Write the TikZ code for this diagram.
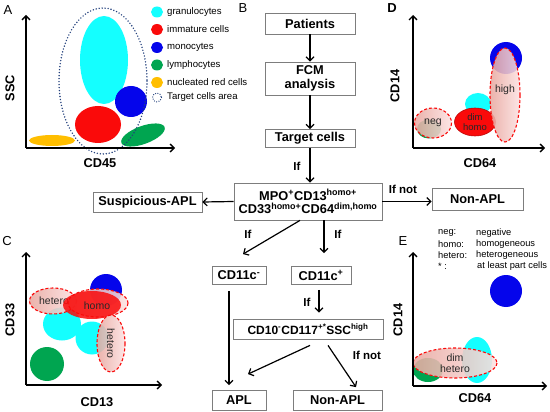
\documentclass[tikz,border=0pt]{standalone}
\usepackage{fontspec}
\setmainfont{Liberation Sans}
\usetikzlibrary{arrows.meta}
\definecolor{cyanc}{RGB}{20,255,255}
\definecolor{redc}{RGB}{250,10,10}
\definecolor{bluec}{RGB}{5,5,235}
\definecolor{greenc}{RGB}{0,165,80}
\definecolor{yellowc}{RGB}{255,190,0}
\definecolor{navyc}{RGB}{35,65,125}
\definecolor{pinkL}{RGB}{232,168,160}
\definecolor{pinkR}{RGB}{252,226,226}
\definecolor{boxc}{RGB}{125,125,125}
\definecolor{txtc}{RGB}{40,40,40}
\begin{document}
\begin{tikzpicture}[x=1pt,y=-1pt,
  box/.style={draw=boxc, line width=0.8pt, fill=white, font=\fontsize{12.8}{14.5}\selectfont\bfseries, inner sep=1pt, align=center},
  arr/.style={line width=1.2pt, -{Straight Barb[length=4pt,width=8pt]}},
  axis/.style={line width=1.3pt, -{Straight Barb[length=4pt,width=8pt]}},
  lbl/.style={font=\fontsize{12.8}{14}\selectfont\bfseries},
  panel/.style={font=\fontsize{13}{15}\selectfont},
  iflbl/.style={font=\fontsize{11.5}{13}\selectfont\bfseries},
  leg/.style={font=\fontsize{9.6}{10.5}\selectfont, anchor=west, inner sep=0pt},
  small/.style={font=\fontsize{9.3}{10}\selectfont, anchor=west, inner sep=0pt},
  pinkd/.style={left color=pinkL, right color=pinkR, fill opacity=0.88, draw=redc, dash pattern=on 3pt off 2pt, line width=1.1pt},
  intxt/.style={font=\fontsize{10.5}{11}\selectfont, text=txtc, align=center, inner sep=0pt},
]
\useasboundingbox (0,0) rectangle (550,412);

% ---------------- Panel A ----------------
\node[panel] (labA) at (8,10) {A};
\coordinate (Ao) at (26,148);
\coordinate (Ay) at (26,15);
\coordinate (Ax) at (175,148);
\fill[yellowc] (52,140.5) ellipse [x radius=23, y radius=5.5];
\fill[greenc, rotate around={20:(143,135)}] (143,135) ellipse [x radius=23, y radius=9];
\fill[cyanc] (104,60) ellipse [x radius=24, y radius=44];
\fill[redc] (98,124.5) ellipse [x radius=23, y radius=18.5];
\fill[bluec] (131,101.5) ellipse [x radius=16, y radius=15.5];
\draw[navyc, line width=1.6pt, dash pattern=on 0pt off 3pt, line cap=round] (103,81) ellipse [x radius=44, y radius=73];
\draw[axis] (Ao) -- (Ay);
\draw[axis] (Ao) -- (Ax);
\node[lbl, rotate=90] (ssc) at (10,88) {SSC};
\node[lbl] (cd45) at (100,163) {CD45};
% legend
\fill[cyanc] (157,12) ellipse [x radius=6, y radius=5.5];
\fill[redc] (157,29.5) ellipse [x radius=6, y radius=5.5];
\fill[bluec] (157,47.5) ellipse [x radius=6, y radius=5.5];
\fill[greenc] (157,65) ellipse [x radius=6, y radius=5.5];
\fill[yellowc] (157,82.5) ellipse [x radius=6, y radius=5.5];
\draw[navyc, line width=1.3pt, dash pattern=on 0pt off 2.4pt, line cap=round] (157,97.5) ellipse [x radius=4.5, y radius=4.5];
\node[leg] (l1) at (167,12) {granulocytes};
\node[leg] (l2) at (167,29.5) {immature cells};
\node[leg] (l3) at (167,47.5) {monocytes};
\node[leg] (l4) at (167,65) {lymphocytes};
\node[leg] (l5) at (167,82.5) {nucleated red cells};
\node[leg] (l6) at (167,97.5) {Target cells area};

% ---------------- Panel B ----------------
\node[panel] (labB) at (243,8) {B};
\node[box, minimum width=90pt, minimum height=21pt] (patients) at (310,23.5) {Patients};
\node[box, minimum width=90pt, minimum height=33pt] (fcm) at (310,78.5) {FCM\\analysis};
\node[box, minimum width=90pt, minimum height=18pt] (target) at (310,138.5) {Target cells};
\node[box, minimum width=148pt, minimum height=37pt] (mpo) at (308,201.5)
  {MPO\textsuperscript{+}CD13\textsuperscript{homo+}\\[-1pt]CD33\textsuperscript{homo+}CD64\textsuperscript{dim,homo}};
\node[box, minimum width=109pt, minimum height=20pt] (susp) at (147.5,202) {Suspicious-APL};
\node[box, minimum width=91pt, minimum height=22pt] (nonapl1) at (477.5,199) {Non-APL};
\node[box, minimum width=54pt, minimum height=18pt] (cd11m) at (239,275.5) {CD11c\textsuperscript{-}};
\node[box, minimum width=60pt, minimum height=18pt] (cd11p) at (321,275.5) {CD11c\textsuperscript{+}};
\node[box, minimum width=150pt, minimum height=20pt, font=\fontsize{12}{13}\selectfont\bfseries] (cd10) at (308,329)
  {CD10\textsuperscript{-}CD117\textsuperscript{+*}SSC\textsuperscript{high}};
\node[box, minimum width=54pt, minimum height=20pt] (apl) at (239,400.5) {APL};
\node[box, minimum width=89pt, minimum height=20pt] (nonapl2) at (337.5,400.5) {Non-APL};

\draw[arr] (patients) -- (fcm);
\draw[arr] (fcm) -- (target);
\draw[arr] (target.south) -- (target.south |- mpo.north);
\node[iflbl] (if1) at (297,166) {If};
\draw[arr] (mpo.west) -- (susp.east);
\draw[arr] (mpo.east) -- (mpo.east -| nonapl1.west);
\node[iflbl] (ifnot1) at (403,189) {If not};
\draw[arr] ([xshift=-8pt]mpo.south) -- ([xshift=4pt,yshift=12pt]cd11m.north);
\node[iflbl] (if2) at (248,234) {If};
\draw[arr] ([xshift=16pt]mpo.south) -- ([xshift=3pt,yshift=13pt]cd11p.north);
\node[iflbl] (if3) at (338,234) {If};
\draw[arr] ([xshift=-2pt,yshift=-5pt]cd11p.south) -- ([xshift=11pt,yshift=6pt]cd10.north);
\node[iflbl] (if4) at (307,302) {If};
\draw[arr] ([xshift=2pt,yshift=-6pt]cd10.south) -- ([xshift=9pt,yshift=16pt]apl.north);
\draw[arr] ([xshift=20pt,yshift=-6pt]cd10.south) -- ([xshift=18.5pt,yshift=3pt]nonapl2.north);
\node[iflbl] (ifnot2) at (367,355) {If not};
\draw[arr] ([xshift=-10pt,yshift=-6pt]cd11m.south) -- ([xshift=-10pt,yshift=5pt]apl.north);

% ---------------- Panel C ----------------
\node[panel] (labC) at (7,241) {C};
\coordinate (Co) at (26,385);
\coordinate (Cy) at (26,252);
\coordinate (Cx) at (162,385);
\fill[greenc] (47,364) circle [radius=17];
\fill[cyanc] (62,324) ellipse [x radius=19, y radius=16.5];
\fill[cyanc] (92,338) ellipse [x radius=16.5, y radius=16.5];
\fill[bluec] (106,290) circle [radius=16];
\draw[pinkd] (53,301) ellipse [x radius=23.5, y radius=13];
\node[intxt] (hetC1) at (54,301) {hetero};
\draw[pinkd] (98,303) ellipse [x radius=30, y radius=14];
\fill[redc, fill opacity=0.85] (92,305) ellipse [x radius=29, y radius=14];
\node[intxt] (homoC) at (97,306) {homo};
\draw[pinkd] (111,343.5) ellipse [x radius=14, y radius=28.5];
\node[intxt, rotate=-90] (hetC2) at (111,343.5) {hetero};
\draw[axis] (Co) -- (Cy);
\draw[axis] (Co) -- (Cx);
\node[lbl, rotate=90] (cd33) at (10,320) {CD33};
\node[lbl] (cd13) at (97,402) {CD13};

% ---------------- Panel D ----------------
\node[panel, font=\fontsize{13}{15}\selectfont\bfseries] (labD) at (392,8) {D};
\coordinate (Do) at (413,148);
\coordinate (Dy) at (413,15);
\coordinate (Dx) at (545,148);
\fill[greenc] (429,129) ellipse [x radius=12, y radius=9.5];
\draw[pinkd] (433,123) ellipse [x radius=18.5, y radius=15];
\node[intxt] (negD) at (433,123) {neg};
\fill[cyanc] (478,104) ellipse [x radius=13, y radius=11];
\filldraw[fill=redc, draw=redc!75!black, line width=0.6pt] (475,122) ellipse [x radius=20.5, y radius=14];
\node[intxt, font=\fontsize{9.5}{10.5}\selectfont] (dimD) at (475,122) {dim\\homo};
\fill[bluec] (506,58) circle [radius=16];
\draw[pinkd] (505,95) ellipse [x radius=15, y radius=47];
\node[intxt] (highD) at (505,90) {high};
\draw[axis] (Do) -- (Dy);
\draw[axis] (Do) -- (Dx);
\node[lbl, rotate=90] (cd14D) at (395,86) {CD14};
\node[lbl] (cd64D) at (480,163) {CD64};

% ---------------- Panel E ----------------
\node[small] (k1) at (438,233) {neg:};
\node[small] (k2) at (438,244.5) {homo:};
\node[small] (k3) at (438,255.5) {hetero:};
\node[small] (k4) at (438,266.5) {* :};
\node[small] (v1) at (476,233) {negative};
\node[small] (v2) at (476,244.5) {homogeneous};
\node[small] (v3) at (476,255.5) {heterogeneous};
\node[small] (v4) at (477,266.5) {at least part cells};
\node[panel] (labE) at (403,241) {E};
\coordinate (Eo) at (413,386);
\coordinate (Ey) at (413,252);
\coordinate (Ex) at (547,386);
\fill[bluec] (506,291) circle [radius=16];
\fill[cyanc] (477,360) ellipse [x radius=15, y radius=23];
\fill[greenc] (428,370) ellipse [x radius=15, y radius=12];
\draw[pinkd] (455,363) ellipse [x radius=42, y radius=15];
\node[intxt] (dimE) at (455,363) {dim\\hetero};
\draw[axis] (Eo) -- (Ey);
\draw[axis] (Eo) -- (Ex);
\node[lbl, rotate=90] (cd14E) at (398,320) {CD14};
\node[lbl] (cd64E) at (475,398) {CD64};
\end{tikzpicture}
\end{document}
